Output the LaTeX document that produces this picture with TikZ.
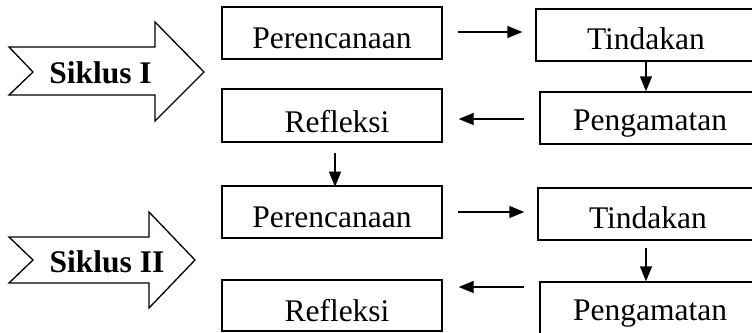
\documentclass[tikz,border=0pt]{standalone}
\usepackage{fontspec}
\setmainfont{Liberation Serif}
\usetikzlibrary{arrows.meta,calc}
\begin{document}
\begin{tikzpicture}[x=1pt,y=-1pt,
  box/.style={draw=black,line width=1.4pt,minimum width=220pt,minimum height=52pt,inner sep=0pt},
  lbl/.style={anchor=base,inner sep=0pt,font=\fontsize{31.5}{36}\selectfont},
  cyc/.style={anchor=base,inner sep=0pt,font=\fontsize{31.5}{36}\selectfont\bfseries},
  bigarrow/.style={draw=black,line width=1.3pt,line join=miter},
  conn/.style={draw=black,line width=1.4pt,-{Triangle[length=15pt,width=12pt]}}]
\useasboundingbox (0,0) rectangle (752,332);
\clip (0,0) rectangle (752,332);

% cycle arrows
\draw[bigarrow] (9,47) -- (155,47) -- (155,22) -- (204,72) -- (155,121) -- (155,95) -- (9,95) -- (33,72) -- cycle;
\node[cyc] (s1) at (100.5,83) {Siklus I};
\draw[bigarrow] (9,237) -- (149,237) -- (149,212) -- (195,260) -- (149,308) -- (149,283) -- (9,283) -- (33,260) -- cycle;
\node[cyc] (s2) at (107,272) {Siklus II};

% cycle I boxes
\node[box] (p1) at (332,33) {};
\node[box,minimum height=53pt] (r1) at (332,115.5) {};
\node[box] (t1) at (646,35) {};
\node[box] (g1) at (650,118) {};
\node[lbl] (p1l) at ($(p1.center)+(0,15)$) {Perencanaan};
\node[lbl] (r1l) at ($(r1.center)+(5,16.5)$) {Refleksi};
\node[lbl] (t1l) at ($(t1.center)+(0,14)$) {Tindakan};
\node[lbl] (g1l) at ($(g1.center)+(0,12)$) {Pengamatan};

% cycle II boxes
\node[box] (p2) at (332,212) {};
\node[box,minimum height=51pt] (r2) at (332,305.5) {};
\node[box] (t2) at (648,214) {};
\node[box] (g2) at (650,308) {};
\node[lbl] (p2l) at ($(p2.center)+(0,15)$) {Perencanaan};
\node[lbl] (r2l) at ($(r2.center)+(5,16)$) {Refleksi};
\node[lbl] (t2l) at ($(t2.center)+(0,14)$) {Tindakan};
\node[lbl] (g2l) at ($(g2.center)+(0,12)$) {Pengamatan};

% connectors, cycle I
\draw[conn] ($(p1.east)+(15,-1)$) -- ($(p1.east -| t1.west)+(-13,-1)$);
\draw[conn] (t1.south) -- (t1.south |- g1.north);
\draw[conn] ($(g1.west)+(-15,1)$) -- ($(g1.west -| r1.east)+(16,1)$);
\draw[conn] ($(r1.south)+(3,10)$) -- ($(r1.south -| p2.north)+(3,44)$);

% connectors, cycle II
\draw[conn] ($(p2.east)+(15,0)$) -- ($(p2.east -| t2.west)+(-13,0)$);
\draw[conn] ($(t2.south)+(-2,7)$) -- ($(t2.south |- g2.north)+(-2,0)$);
\draw[conn] ($(g2.west)+(-15,-21)$) -- ($(g2.west -| r2.east)+(16,-21)$);
\end{tikzpicture}
\end{document}
